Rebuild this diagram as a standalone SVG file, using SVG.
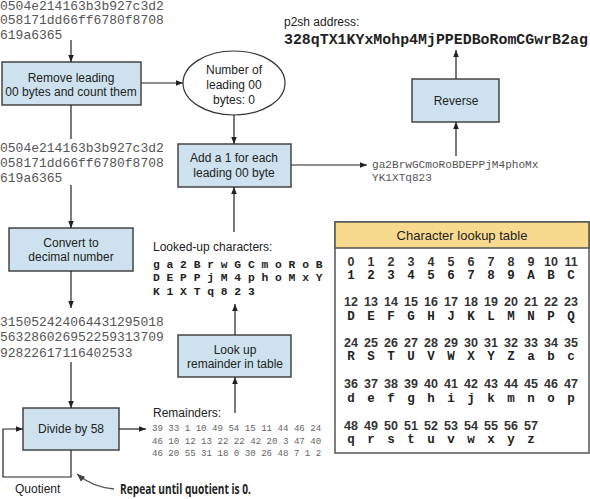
<svg xmlns="http://www.w3.org/2000/svg" width="590" height="499" viewBox="0 0 590 499">
<defs>
<marker id="ah" viewBox="0 0 10 10" refX="10" refY="5" markerWidth="7" markerHeight="7" markerUnits="userSpaceOnUse" orient="auto">
<path d="M0,1 L10,5 L0,9 z" fill="#222"/>
</marker>
<marker id="ah2" viewBox="0 0 10 10" refX="10" refY="5" markerWidth="8" markerHeight="8" markerUnits="userSpaceOnUse" orient="auto">
<path d="M0,1 L10,5 L0,9 z" fill="#444"/>
</marker>
<style>
.box{fill:#cde2ee;stroke:#444;stroke-width:1.5}
.lbl{font-family:"Liberation Sans",Arial,sans-serif;font-size:12px;fill:#222;text-anchor:middle;dominant-baseline:central}
.sans{font-family:"Liberation Sans",Arial,sans-serif;font-size:12px;fill:#222;dominant-baseline:central}
.mono{font-family:"Liberation Mono","Courier New",monospace;font-size:13px;fill:#555;dominant-baseline:central}
.bmono{font-family:"Liberation Mono","Courier New",monospace;font-weight:bold;fill:#222;dominant-baseline:central}
.small{font-family:"Liberation Mono","Courier New",monospace;font-size:9.1px;fill:#666;dominant-baseline:central}
.num{font-family:"Liberation Sans",Arial,sans-serif;font-weight:bold;font-size:12.5px;fill:#333;text-anchor:middle;dominant-baseline:central}
.let{font-family:"Liberation Mono","Courier New",monospace;font-weight:bold;font-size:12.5px;fill:#222;text-anchor:middle;dominant-baseline:central}
.conn{fill:none;stroke:#222;stroke-width:1.2}
</style>
</defs>
<rect width="590" height="499" fill="#fff"/>

<g id="texts">
<text class="mono" x="0" y="6">0504e214163b3b927c3d2</text>
<text class="mono" x="0" y="20">058171dd66ff6780f8708</text>
<text class="mono" x="0" y="35">619a6365</text>
<text class="mono" x="0" y="148">0504e214163b3b927c3d2</text>
<text class="mono" x="0" y="163">058171dd66ff6780f8708</text>
<text class="mono" x="0" y="178">619a6365</text>
<text class="mono" x="0" y="322">315052424064431295018</text>
<text class="mono" x="0" y="337">563286026952259313709</text>
<text class="mono" x="0" y="353">92822617116402533</text>
<text class="sans" x="284" y="22">p2sh address:</text>
<text class="bmono" x="284" y="40" font-size="14.9">328qTX1KYxMohp4MjPPEDBoRomCGwrB2ag</text>
<text class="mono" x="372" y="165" style="font-size:11.1px">ga2BrwGCmoRoBDEPPjM4phoMx</text>
<text class="mono" x="372" y="178" style="font-size:11.1px">YK1XTq823</text>
<text class="sans" x="153" y="247">Looked-up characters:</text>
<text class="bmono" x="153" y="265" style="font-size:11.3px">g a 2 B r w G C m o R o B</text>
<text class="bmono" x="153" y="278" style="font-size:11.3px">D E P P j M 4 p h o M x Y</text>
<text class="bmono" x="153" y="292" style="font-size:11.3px">K 1 X T q 8 2 3</text>
<text class="sans" x="153" y="413">Remainders:</text>
<text class="small" x="152" y="428">39 33 1 10 49 54 15 11 44 46 24</text>
<text class="small" x="152" y="441">46 10 12 13 22 22 42 20 3 47 40</text>
<text class="small" x="152" y="453">46 20 55 31 18 0 30 26 48 7 1 2</text>
<text class="sans" x="15" y="489">Quotient</text>
<text x="120" y="489" textLength="131" lengthAdjust="spacingAndGlyphs" style="font-family:'Open Sans','Liberation Sans',sans-serif;font-weight:bold;font-size:13.5px;fill:#222;dominant-baseline:central">Repeat until quotient is 0.</text>
</g>

<g id="n-remove">
<rect class="box" x="2" y="62" width="139" height="43"/>
<text class="lbl" x="71" y="78">Remove leading</text>
<text class="lbl" x="71" y="92">00 bytes and count them</text>
</g>
<g id="n-count">
<ellipse cx="234" cy="83" rx="51" ry="32" fill="#fff" stroke="#333" stroke-width="1.2"/>
<text class="lbl" x="234" y="70">Number of</text>
<text class="lbl" x="234" y="85">leading 00</text>
<text class="lbl" x="234" y="100">bytes: 0</text>
</g>
<g id="n-add">
<rect class="box" x="178" y="144" width="113" height="43"/>
<text class="lbl" x="234" y="158">Add a 1 for each</text>
<text class="lbl" x="234" y="173">leading 00 byte</text>
</g>
<g id="n-reverse">
<rect class="box" x="412" y="79" width="87" height="43"/>
<text class="lbl" x="456" y="101">Reverse</text>
</g>
<g id="n-convert">
<rect class="box" x="9" y="228" width="124" height="43"/>
<text class="lbl" x="71" y="243">Convert to</text>
<text class="lbl" x="71" y="257">decimal number</text>
</g>
<g id="n-lookup">
<rect class="box" x="178" y="335" width="113" height="42"/>
<text class="lbl" x="235" y="350">Look up</text>
<text class="lbl" x="235" y="364">remainder in table</text>
</g>
<g id="n-divide">
<rect class="box" x="23" y="408" width="96" height="42"/>
<text class="lbl" x="71" y="429">Divide by 58</text>
</g>

<g id="n-table">
<rect x="335" y="222" width="254" height="231" fill="#fff" stroke="#555" stroke-width="1.5"/>
<rect x="335" y="222" width="254" height="26" fill="#f7da8e" stroke="#555" stroke-width="1.5"/>
<text class="lbl" x="462" y="235" style="font-size:13px">Character lookup table</text>
<g>
<text class="num" x="351" y="262">0</text><text class="num" x="371" y="262">1</text><text class="num" x="391" y="262">2</text><text class="num" x="411" y="262">3</text><text class="num" x="431" y="262">4</text><text class="num" x="451" y="262">5</text><text class="num" x="471" y="262">6</text><text class="num" x="491" y="262">7</text><text class="num" x="511" y="262">8</text><text class="num" x="531" y="262">9</text><text class="num" x="551" y="262">10</text><text class="num" x="571" y="262">11</text>
<text class="let" x="351" y="276">1</text><text class="let" x="371" y="276">2</text><text class="let" x="391" y="276">3</text><text class="let" x="411" y="276">4</text><text class="let" x="431" y="276">5</text><text class="let" x="451" y="276">6</text><text class="let" x="471" y="276">7</text><text class="let" x="491" y="276">8</text><text class="let" x="511" y="276">9</text><text class="let" x="531" y="276">A</text><text class="let" x="551" y="276">B</text><text class="let" x="571" y="276">C</text>
<text class="num" x="351" y="302">12</text><text class="num" x="371" y="302">13</text><text class="num" x="391" y="302">14</text><text class="num" x="411" y="302">15</text><text class="num" x="431" y="302">16</text><text class="num" x="451" y="302">17</text><text class="num" x="471" y="302">18</text><text class="num" x="491" y="302">19</text><text class="num" x="511" y="302">20</text><text class="num" x="531" y="302">21</text><text class="num" x="551" y="302">22</text><text class="num" x="571" y="302">23</text>
<text class="let" x="351" y="317">D</text><text class="let" x="371" y="317">E</text><text class="let" x="391" y="317">F</text><text class="let" x="411" y="317">G</text><text class="let" x="431" y="317">H</text><text class="let" x="451" y="317">J</text><text class="let" x="471" y="317">K</text><text class="let" x="491" y="317">L</text><text class="let" x="511" y="317">M</text><text class="let" x="531" y="317">N</text><text class="let" x="551" y="317">P</text><text class="let" x="571" y="317">Q</text>
<text class="num" x="351" y="343">24</text><text class="num" x="371" y="343">25</text><text class="num" x="391" y="343">26</text><text class="num" x="411" y="343">27</text><text class="num" x="431" y="343">28</text><text class="num" x="451" y="343">29</text><text class="num" x="471" y="343">30</text><text class="num" x="491" y="343">31</text><text class="num" x="511" y="343">32</text><text class="num" x="531" y="343">33</text><text class="num" x="551" y="343">34</text><text class="num" x="571" y="343">35</text>
<text class="let" x="351" y="357">R</text><text class="let" x="371" y="357">S</text><text class="let" x="391" y="357">T</text><text class="let" x="411" y="357">U</text><text class="let" x="431" y="357">V</text><text class="let" x="451" y="357">W</text><text class="let" x="471" y="357">X</text><text class="let" x="491" y="357">Y</text><text class="let" x="511" y="357">Z</text><text class="let" x="531" y="357">a</text><text class="let" x="551" y="357">b</text><text class="let" x="571" y="357">c</text>
<text class="num" x="351" y="384">36</text><text class="num" x="371" y="384">37</text><text class="num" x="391" y="384">38</text><text class="num" x="411" y="384">39</text><text class="num" x="431" y="384">40</text><text class="num" x="451" y="384">41</text><text class="num" x="471" y="384">42</text><text class="num" x="491" y="384">43</text><text class="num" x="511" y="384">44</text><text class="num" x="531" y="384">45</text><text class="num" x="551" y="384">46</text><text class="num" x="571" y="384">47</text>
<text class="let" x="351" y="399">d</text><text class="let" x="371" y="399">e</text><text class="let" x="391" y="399">f</text><text class="let" x="411" y="399">g</text><text class="let" x="431" y="399">h</text><text class="let" x="451" y="399">i</text><text class="let" x="471" y="399">j</text><text class="let" x="491" y="399">k</text><text class="let" x="511" y="399">m</text><text class="let" x="531" y="399">n</text><text class="let" x="551" y="399">o</text><text class="let" x="571" y="399">p</text>
<text class="num" x="351" y="426">48</text><text class="num" x="371" y="426">49</text><text class="num" x="391" y="426">50</text><text class="num" x="411" y="426">51</text><text class="num" x="431" y="426">52</text><text class="num" x="451" y="426">53</text><text class="num" x="471" y="426">54</text><text class="num" x="491" y="426">55</text><text class="num" x="511" y="426">56</text><text class="num" x="531" y="426">57</text>
<text class="let" x="351" y="440">q</text><text class="let" x="371" y="440">r</text><text class="let" x="391" y="440">s</text><text class="let" x="411" y="440">t</text><text class="let" x="431" y="440">u</text><text class="let" x="451" y="440">v</text><text class="let" x="471" y="440">w</text><text class="let" x="491" y="440">x</text><text class="let" x="511" y="440">y</text><text class="let" x="531" y="440">z</text>
</g>
</g>

<g id="connectors">
<path class="conn" d="M71,40 V62" marker-end="url(#ah)"/>
<path class="conn" d="M141,83 H183" marker-end="url(#ah)"/>
<path class="conn" d="M234,115 V144" marker-end="url(#ah)"/>
<path class="conn" d="M291,165 H367" marker-end="url(#ah)"/>
<path class="conn" d="M456,156 V122" marker-end="url(#ah)"/>
<path class="conn" d="M456,79 V50" marker-end="url(#ah)"/>
<path class="conn" d="M71,105 V139"/>
<path class="conn" d="M71,185 V228" marker-end="url(#ah)"/>
<path class="conn" d="M71,271 V308" marker-end="url(#ah)"/>
<path class="conn" d="M71,362 V408" marker-end="url(#ah)"/>
<path class="conn" d="M71,450 V477 H3 V429 H23" marker-end="url(#ah)"/>
<path class="conn" d="M119,429 H146" marker-end="url(#ah)"/>
<path class="conn" d="M235,413 V377" marker-end="url(#ah)"/>
<path class="conn" d="M235,335 V304" marker-end="url(#ah)"/>
<path class="conn" d="M234,232 V187" marker-end="url(#ah)"/>
<path d="M114,489 Q92,487 77,474" fill="none" stroke="#555" stroke-width="1.3" marker-end="url(#ah2)"/>
</g>
</svg>
